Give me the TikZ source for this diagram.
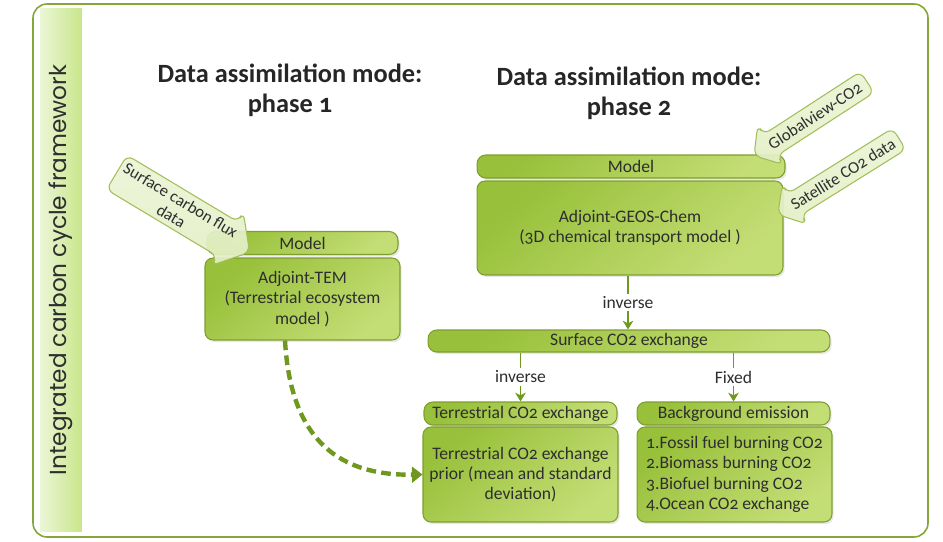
\documentclass[tikz,border=0pt]{standalone}
\usepackage{fontspec}
\setmainfont{Carlito}[Numbers=OldStyle]
\newfontfamily\sidefont{Poppins}
\usetikzlibrary{positioning,arrows.meta,shapes.arrows,shadows}
\definecolor{boxdark}{HTML}{98C03A}
\definecolor{boxlight}{HTML}{C4DE76}
\definecolor{boxline}{HTML}{7E9E2E}
\definecolor{calfill}{HTML}{E3EFC5}
\definecolor{calline}{HTML}{A2BD5A}
\definecolor{linkgreen}{HTML}{6E981E}
\definecolor{txt}{HTML}{2E2E2E}
\definecolor{striptop}{HTML}{C8E68A}
\definecolor{stripbot}{HTML}{EBF6D6}
\definecolor{framegreen}{HTML}{86A63A}

\begin{document}
\begin{tikzpicture}[x=0.02cm, y=-0.02cm,
    hdr/.style={draw=boxline, line width=0.6pt, rounded corners=5pt,
        top color=boxdark, bottom color=boxlight, shading angle=40,
        text=txt, inner sep=0pt, minimum height=0.46cm,
        font=\fontsize{10}{11}\selectfont,
        drop shadow={shadow xshift=1pt, shadow yshift=-1.2pt, opacity=0.18}},
    body/.style={hdr, rounded corners=4.5pt, align=center,
        font=\fontsize{10}{11.6}\selectfont},
    callout/.style={single arrow, draw=calline, line width=0.6pt,
        top color=calfill!70!white, bottom color=calfill, fill opacity=0.92,
        text opacity=1, rounded corners=4pt, text=txt, inner xsep=1pt,
        single arrow tip angle=100, single arrow head extend=0.22cm,
        font=\fontsize{9.5}{10.5}\selectfont, align=center},
    link/.style={draw=linkgreen, line width=0.6pt,
        -{Stealth[length=5pt, width=6pt, inset=1.5pt]}},
    dashlink/.style={draw=linkgreen, line width=2.5pt,
        dash pattern=on 5.5pt off 3pt, -{Triangle[length=6pt, width=9pt]}},
    lbl/.style={fill=white, inner sep=1.5pt, text=txt,
        font=\fontsize{10}{11}\selectfont},
    ttl/.style={align=center, text=black!85,
        font=\fontsize{15}{17}\selectfont\bfseries}
]
    \useasboundingbox (0,0) rectangle (943,541);

    % frame and side band
    \draw[framegreen, line width=0.9pt, rounded corners=8pt] (33,4) rectangle (928,537);
    \node[rotate=90, left color=stripbot, right color=striptop, inner sep=0pt,
        minimum width=10.46cm, minimum height=0.84cm, text=txt,
        font=\sidefont\fontsize{13.2}{15}\selectfont] (side) at (61,270)
        {Integrated carbon cycle framework};

    % Titles
    \node[ttl] (t1) at (290,90) {Data assimilation mode:\\phase 1};
    \node[ttl] (t2) at (629,93) {Data assimilation mode:\\phase 2};

    % Phase 1 nodes
    \node[hdr, minimum width=3.82cm] (m1) at (302.5,243) {Model};
    \node[body, minimum width=3.9cm, minimum height=1.64cm] (tem) at (302.5,299)
        {Adjoint-TEM\\(Terrestrial ecosystem\\model )};

    % Phase 2 nodes
    \node[hdr, minimum width=6.16cm] (m2) at (631,166.5) {Model};
    \node[body, minimum width=6.12cm, minimum height=1.88cm] (ch) at (630,228)
        {Adjoint-GEOS-Chem\\(3D chemical transport model )};
    \node[hdr, minimum width=8.04cm, minimum height=0.44cm] (sfx) at (629,341)
        {Surface CO2 exchange};
    \node[hdr, minimum width=3.86cm] (tco) at (520.5,413.5) {Terrestrial CO2 exchange};
    \node[body, minimum width=3.9cm, minimum height=1.9cm] (tpr) at (520.5,474.5)
        {Terrestrial CO2 exchange\\prior (mean and standard\\deviation)};
    \node[hdr, minimum width=3.86cm] (bg) at (733.5,413.5) {Background emission};
    \node[body, minimum width=3.9cm, minimum height=1.9cm, align=left] (bge) at (734.5,474.5)
        {1.Fossil fuel burning CO2\\2.Biomass burning CO2\\3.Biofuel burning CO2\\4.Ocean CO2 exchange};

    % Data inputs
    \node[callout, rotate=-31, minimum height=3.1cm, inner ysep=2.5pt] (sfd) at (176,208)
        {Surface carbon flux\\data};
    \node[callout, rotate=33, shape border rotate=180, minimum height=2.7cm,
        inner ysep=3.5pt] (gv) at (815,116) {Globalview-CO2};
    \node[callout, rotate=32, shape border rotate=180, minimum height=2.86cm,
        inner ysep=3.5pt] (sat) at (843,174) {Satellite CO2 data};

    % connections
    \draw[link] (ch.south -| 628,0) -- node[lbl] {inverse} (sfx.north -| 628,0);
    \draw[link] (sfx.south -| tco.north) -- node[lbl] {inverse} (tco.north);
    \draw[link] (sfx.south -| bg.north) -- node[lbl] {Fixed} (bg.north);
    \draw[dashlink] ([xshift=-0.35cm]tem.south) .. controls (290,430) and (330,476) .. (tpr.west);
\end{tikzpicture}
\end{document}
